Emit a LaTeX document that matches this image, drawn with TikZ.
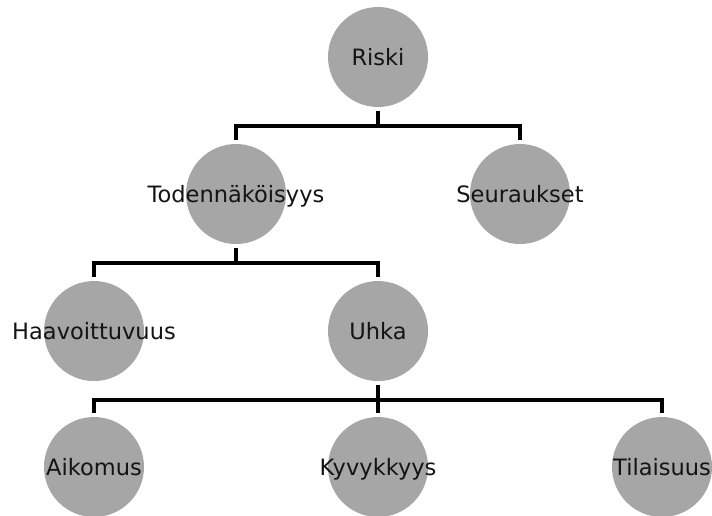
\documentclass[tikz,border=0pt]{standalone}
\usepackage{fontspec}
\setmainfont{DejaVu Sans}

\definecolor{pallo}{HTML}{A6A6A6}
% label text may stick out of the circle without growing it
\newcommand{\nimi}[1]{\makebox[0pt]{#1}}

\begin{document}
\begin{tikzpicture}[x=0.75pt, y=-0.75pt,
        solmu/.style={circle, fill=pallo, minimum size=75pt, inner sep=0pt,
            font=\fontsize{16.9}{20}\selectfont, text=black!92,
            text height=12.4pt, text depth=0pt},
        haara/.style={black, line width=2.4pt, shorten <=3pt, shorten >=2.5pt}]
            \useasboundingbox (0,0) rectangle (712,515);

            \node[solmu] (riski)  at (378,57)  {\nimi{Riski}};
            \node[solmu] (todnak) at (236,194) {\nimi{Todennäköisyys}};
            \node[solmu] (seur)   at (520,194) {\nimi{Seuraukset}};
            \node[solmu] (haav)   at (94,331)  {\nimi{Haavoittuvuus}};
            \node[solmu] (uhka)   at (378,331) {\nimi{Uhka}};
            \node[solmu] (aik)    at (94,467)  {\nimi{Aikomus}};
            \node[solmu] (kyvy)   at (378,467) {\nimi{Kyvykkyys}};
            \node[solmu] (tila)   at (662,467) {\nimi{Tilaisuus}};

            \coordinate (b1) at (378,126);
            \coordinate (b2) at (236,263);
            \coordinate (b3) at (378,400);

            \draw[haara, shorten >=0pt] (riski.south) -- (b1);
            \draw[haara] (todnak.north) |- (b1) -| (seur.north);

            \draw[haara, shorten >=0pt] (todnak.south) -- (b2);
            \draw[haara] (haav.north) |- (b2) -| (uhka.north);

            \draw[haara] (uhka.south) -- (kyvy.north);
            \draw[haara] (aik.north) |- (b3) -| (tila.north);
        \end{tikzpicture}
\end{document}
